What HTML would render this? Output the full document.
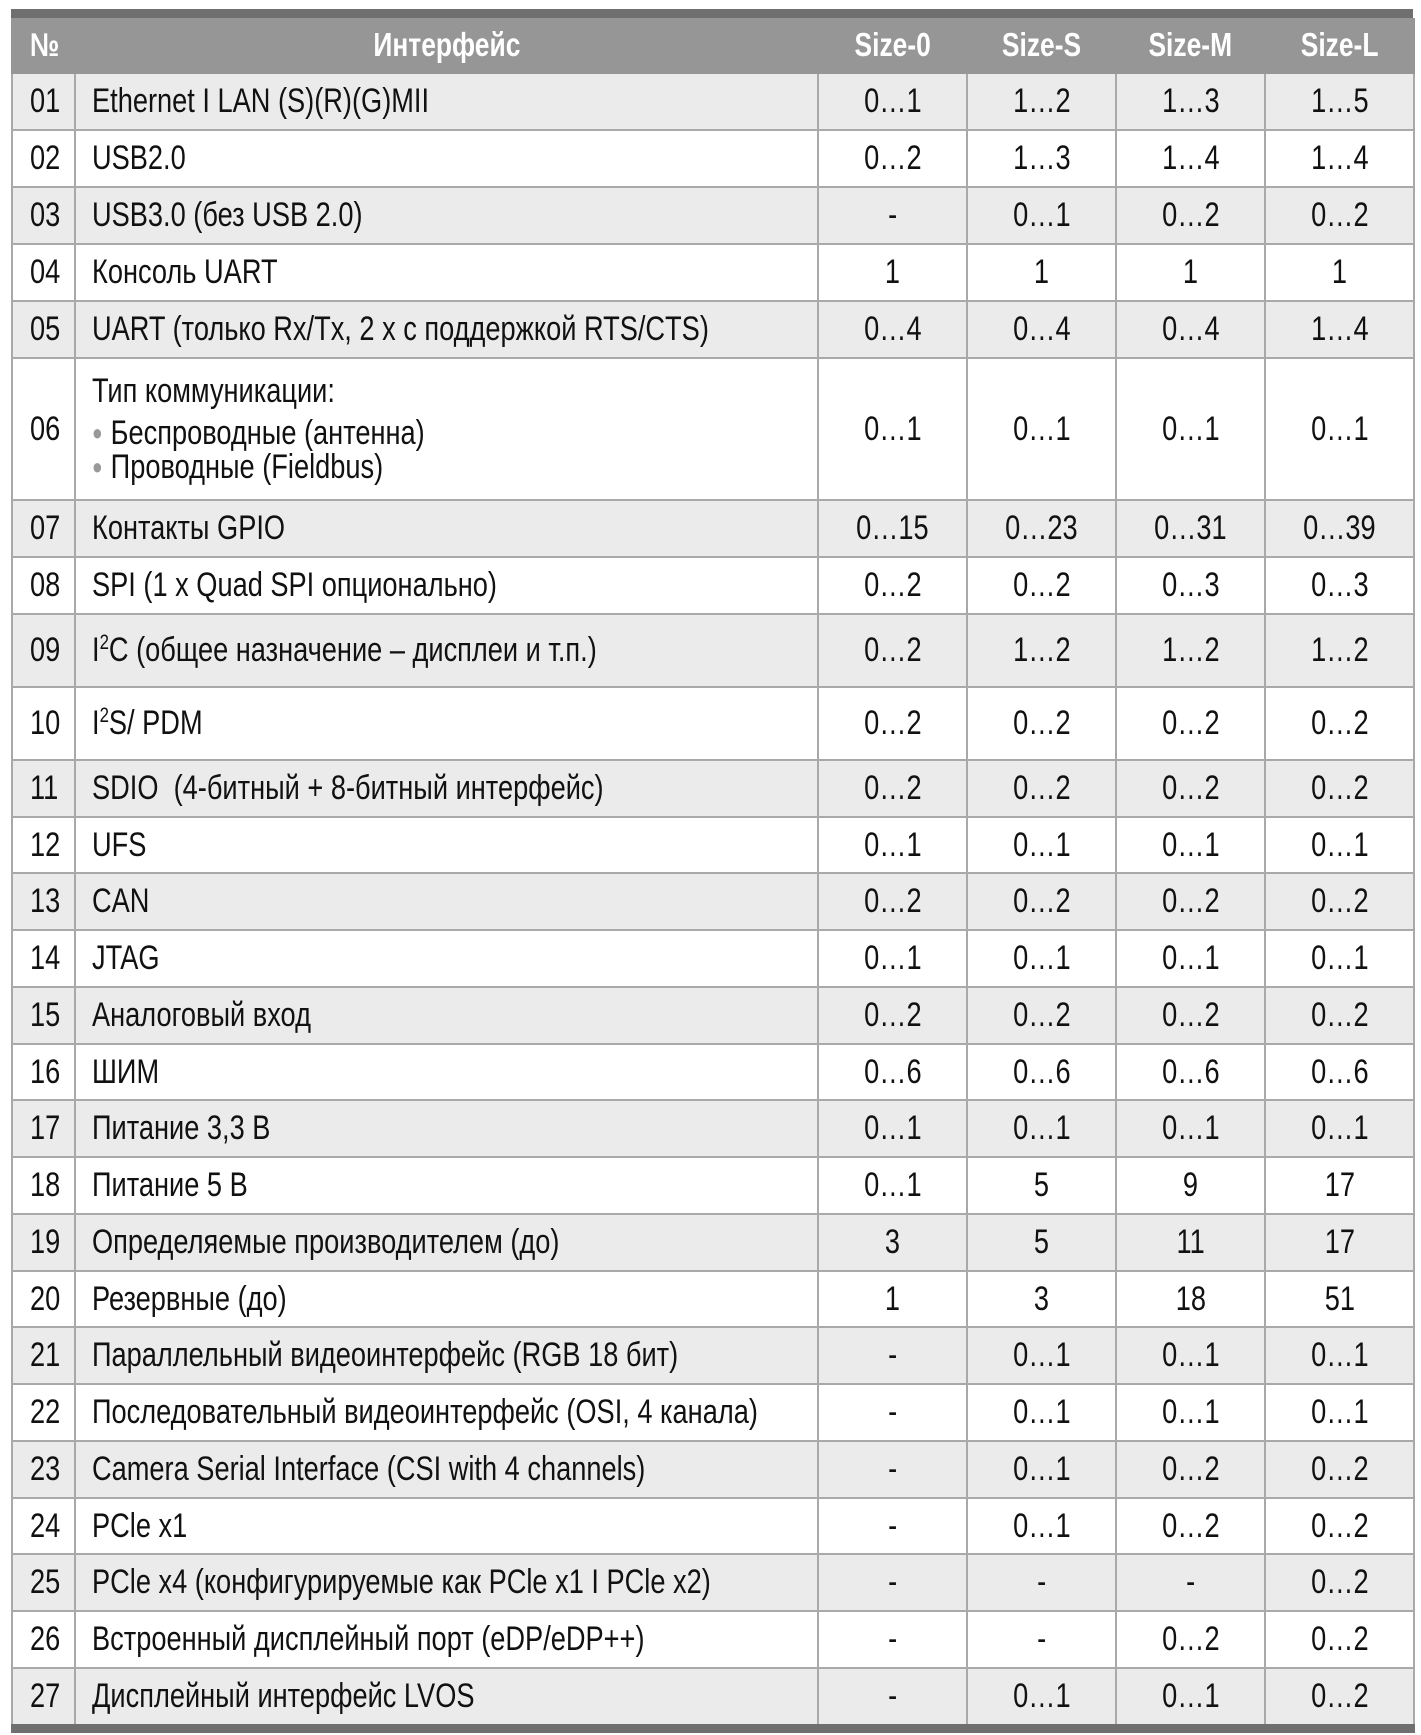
<!DOCTYPE html>
<html><head><meta charset="utf-8"><style>
body{margin:0;background:#fff;width:1421px;height:1735px;overflow:hidden;font-family:"Liberation Sans","DejaVu Sans",sans-serif;}
table{position:absolute;left:11px;top:18px;border-collapse:collapse;table-layout:fixed;width:1402px;}
td,th{border:2px solid #a9a9a9;padding:0;color:#111;font-size:34px;white-space:nowrap;overflow:visible;}
th{background:#969696;color:#fff;font-weight:bold;height:54px;border-color:#969696;border-top:none;font-size:33px}
tr.g td{background:#ebebeb}
td{height:55px;text-align:center}
tr.k td{height:54px}
tr.last td{border-bottom:9px solid #6f6f6f}
td.n{text-align:left;padding-left:17px}
td.t{text-align:left;padding-left:16px}
.s{display:inline-block;transform:scaleX(.8);transform-origin:center}
td.t .s,td.n .s,th.l .s{transform-origin:left}
.top{position:absolute;left:11px;top:9px;width:1402px;height:10px;background:#6f6f6f}
sup{font-size:21px;vertical-align:12px;line-height:0}
.b{color:#999;font-size:22px;margin-right:10px;vertical-align:4px}
</style></head><body>
<div class="top"></div>
<table>
<colgroup><col style="width:63px"><col style="width:743px"><col style="width:149px"><col style="width:149px"><col style="width:149px"><col style="width:149px"></colgroup>
<tr><th class="l" style="text-align:left;padding-left:17px"><span class="s">№</span></th><th><span class="s">Интерфейс</span></th><th><span class="s">Size-0</span></th><th><span class="s">Size-S</span></th><th><span class="s">Size-M</span></th><th><span class="s">Size-L</span></th></tr>
<tr class="g"><td class="n"><span class="s">01</span></td><td class="t"><span class="s">Ethernet I LAN (S)(R)(G)MII</span></td><td><span class="s">0…1</span></td><td><span class="s">1…2</span></td><td><span class="s">1…3</span></td><td><span class="s">1…5</span></td></tr>
<tr><td class="n"><span class="s">02</span></td><td class="t"><span class="s">USB2.0</span></td><td><span class="s">0…2</span></td><td><span class="s">1…3</span></td><td><span class="s">1…4</span></td><td><span class="s">1…4</span></td></tr>
<tr class="g"><td class="n"><span class="s">03</span></td><td class="t"><span class="s">USB3.0 (без USB 2.0)</span></td><td><span class="s">-</span></td><td><span class="s">0…1</span></td><td><span class="s">0…2</span></td><td><span class="s">0…2</span></td></tr>
<tr><td class="n"><span class="s">04</span></td><td class="t"><span class="s">Консоль UART</span></td><td><span class="s">1</span></td><td><span class="s">1</span></td><td><span class="s">1</span></td><td><span class="s">1</span></td></tr>
<tr class="g"><td class="n"><span class="s">05</span></td><td class="t"><span class="s">UART (только Rx/Tx, 2 x с поддержкой RTS/CTS)</span></td><td><span class="s">0…4</span></td><td><span class="s">0…4</span></td><td><span class="s">0…4</span></td><td><span class="s">1…4</span></td></tr>
<tr><td class="n" style="height:140px"><span class="s">06</span></td><td class="t" style="line-height:34px"><span class="s">Тип коммуникации:<br><span style="display:block;height:8px"></span><span class="b">●</span>Беспроводные (антенна)<br><span class="b">●</span>Проводные (Fieldbus)</span></td><td><span class="s">0…1</span></td><td><span class="s">0…1</span></td><td><span class="s">0…1</span></td><td><span class="s">0…1</span></td></tr>
<tr class="g"><td class="n"><span class="s">07</span></td><td class="t"><span class="s">Контакты GPIO</span></td><td><span class="s">0…15</span></td><td><span class="s">0…23</span></td><td><span class="s">0…31</span></td><td><span class="s">0…39</span></td></tr>
<tr><td class="n"><span class="s">08</span></td><td class="t"><span class="s">SPI (1 x Quad SPI опционально)</span></td><td><span class="s">0…2</span></td><td><span class="s">0…2</span></td><td><span class="s">0…3</span></td><td><span class="s">0…3</span></td></tr>
<tr class="g"><td class="n" style="height:71px"><span class="s">09</span></td><td class="t"><span class="s">I<sup>2</sup>C (общее назначение – дисплеи и т.п.)</span></td><td><span class="s">0…2</span></td><td><span class="s">1…2</span></td><td><span class="s">1…2</span></td><td><span class="s">1…2</span></td></tr>
<tr><td class="n" style="height:71px"><span class="s">10</span></td><td class="t"><span class="s">I<sup>2</sup>S/ PDM</span></td><td><span class="s">0…2</span></td><td><span class="s">0…2</span></td><td><span class="s">0…2</span></td><td><span class="s">0…2</span></td></tr>
<tr class="g"><td class="n"><span class="s">11</span></td><td class="t"><span class="s">SDIO&nbsp; (4-битный + 8-битный интерфейс)</span></td><td><span class="s">0…2</span></td><td><span class="s">0…2</span></td><td><span class="s">0…2</span></td><td><span class="s">0…2</span></td></tr>
<tr class="k"><td class="n"><span class="s">12</span></td><td class="t"><span class="s">UFS</span></td><td><span class="s">0…1</span></td><td><span class="s">0…1</span></td><td><span class="s">0…1</span></td><td><span class="s">0…1</span></td></tr>
<tr class="g"><td class="n"><span class="s">13</span></td><td class="t"><span class="s">CAN</span></td><td><span class="s">0…2</span></td><td><span class="s">0…2</span></td><td><span class="s">0…2</span></td><td><span class="s">0…2</span></td></tr>
<tr><td class="n"><span class="s">14</span></td><td class="t"><span class="s">JTAG</span></td><td><span class="s">0…1</span></td><td><span class="s">0…1</span></td><td><span class="s">0…1</span></td><td><span class="s">0…1</span></td></tr>
<tr class="g"><td class="n"><span class="s">15</span></td><td class="t"><span class="s">Аналоговый вход</span></td><td><span class="s">0…2</span></td><td><span class="s">0…2</span></td><td><span class="s">0…2</span></td><td><span class="s">0…2</span></td></tr>
<tr class="k"><td class="n"><span class="s">16</span></td><td class="t"><span class="s">ШИМ</span></td><td><span class="s">0…6</span></td><td><span class="s">0…6</span></td><td><span class="s">0…6</span></td><td><span class="s">0…6</span></td></tr>
<tr class="g"><td class="n"><span class="s">17</span></td><td class="t"><span class="s">Питание 3,3 В</span></td><td><span class="s">0…1</span></td><td><span class="s">0…1</span></td><td><span class="s">0…1</span></td><td><span class="s">0…1</span></td></tr>
<tr><td class="n"><span class="s">18</span></td><td class="t"><span class="s">Питание 5 В</span></td><td><span class="s">0…1</span></td><td><span class="s">5</span></td><td><span class="s">9</span></td><td><span class="s">17</span></td></tr>
<tr class="g"><td class="n"><span class="s">19</span></td><td class="t"><span class="s">Определяемые производителем (до)</span></td><td><span class="s">3</span></td><td><span class="s">5</span></td><td><span class="s">11</span></td><td><span class="s">17</span></td></tr>
<tr class="k"><td class="n"><span class="s">20</span></td><td class="t"><span class="s">Резервные (до)</span></td><td><span class="s">1</span></td><td><span class="s">3</span></td><td><span class="s">18</span></td><td><span class="s">51</span></td></tr>
<tr class="g"><td class="n"><span class="s">21</span></td><td class="t"><span class="s">Параллельный видеоинтерфейс (RGB 18 бит)</span></td><td><span class="s">-</span></td><td><span class="s">0…1</span></td><td><span class="s">0…1</span></td><td><span class="s">0…1</span></td></tr>
<tr><td class="n"><span class="s">22</span></td><td class="t"><span class="s">Последовательный видеоинтерфейс (OSI, 4 канала)</span></td><td><span class="s">-</span></td><td><span class="s">0…1</span></td><td><span class="s">0…1</span></td><td><span class="s">0…1</span></td></tr>
<tr class="g"><td class="n"><span class="s">23</span></td><td class="t"><span class="s">Camera Serial Interface (CSI with 4 channels)</span></td><td><span class="s">-</span></td><td><span class="s">0…1</span></td><td><span class="s">0…2</span></td><td><span class="s">0…2</span></td></tr>
<tr class="k"><td class="n"><span class="s">24</span></td><td class="t"><span class="s">PCle x1</span></td><td><span class="s">-</span></td><td><span class="s">0…1</span></td><td><span class="s">0…2</span></td><td><span class="s">0…2</span></td></tr>
<tr class="g"><td class="n"><span class="s">25</span></td><td class="t"><span class="s">PCle x4 (конфигурируемые как PCle x1 I PCle x2)</span></td><td><span class="s">-</span></td><td><span class="s">-</span></td><td><span class="s">-</span></td><td><span class="s">0…2</span></td></tr>
<tr><td class="n"><span class="s">26</span></td><td class="t"><span class="s">Встроенный дисплейный порт (eDP/eDP++)</span></td><td><span class="s">-</span></td><td><span class="s">-</span></td><td><span class="s">0…2</span></td><td><span class="s">0…2</span></td></tr>
<tr class="g last"><td class="n"><span class="s">27</span></td><td class="t"><span class="s">Дисплейный интерфейс LVOS</span></td><td><span class="s">-</span></td><td><span class="s">0…1</span></td><td><span class="s">0…1</span></td><td><span class="s">0…2</span></td></tr>
</table>
</body></html>
